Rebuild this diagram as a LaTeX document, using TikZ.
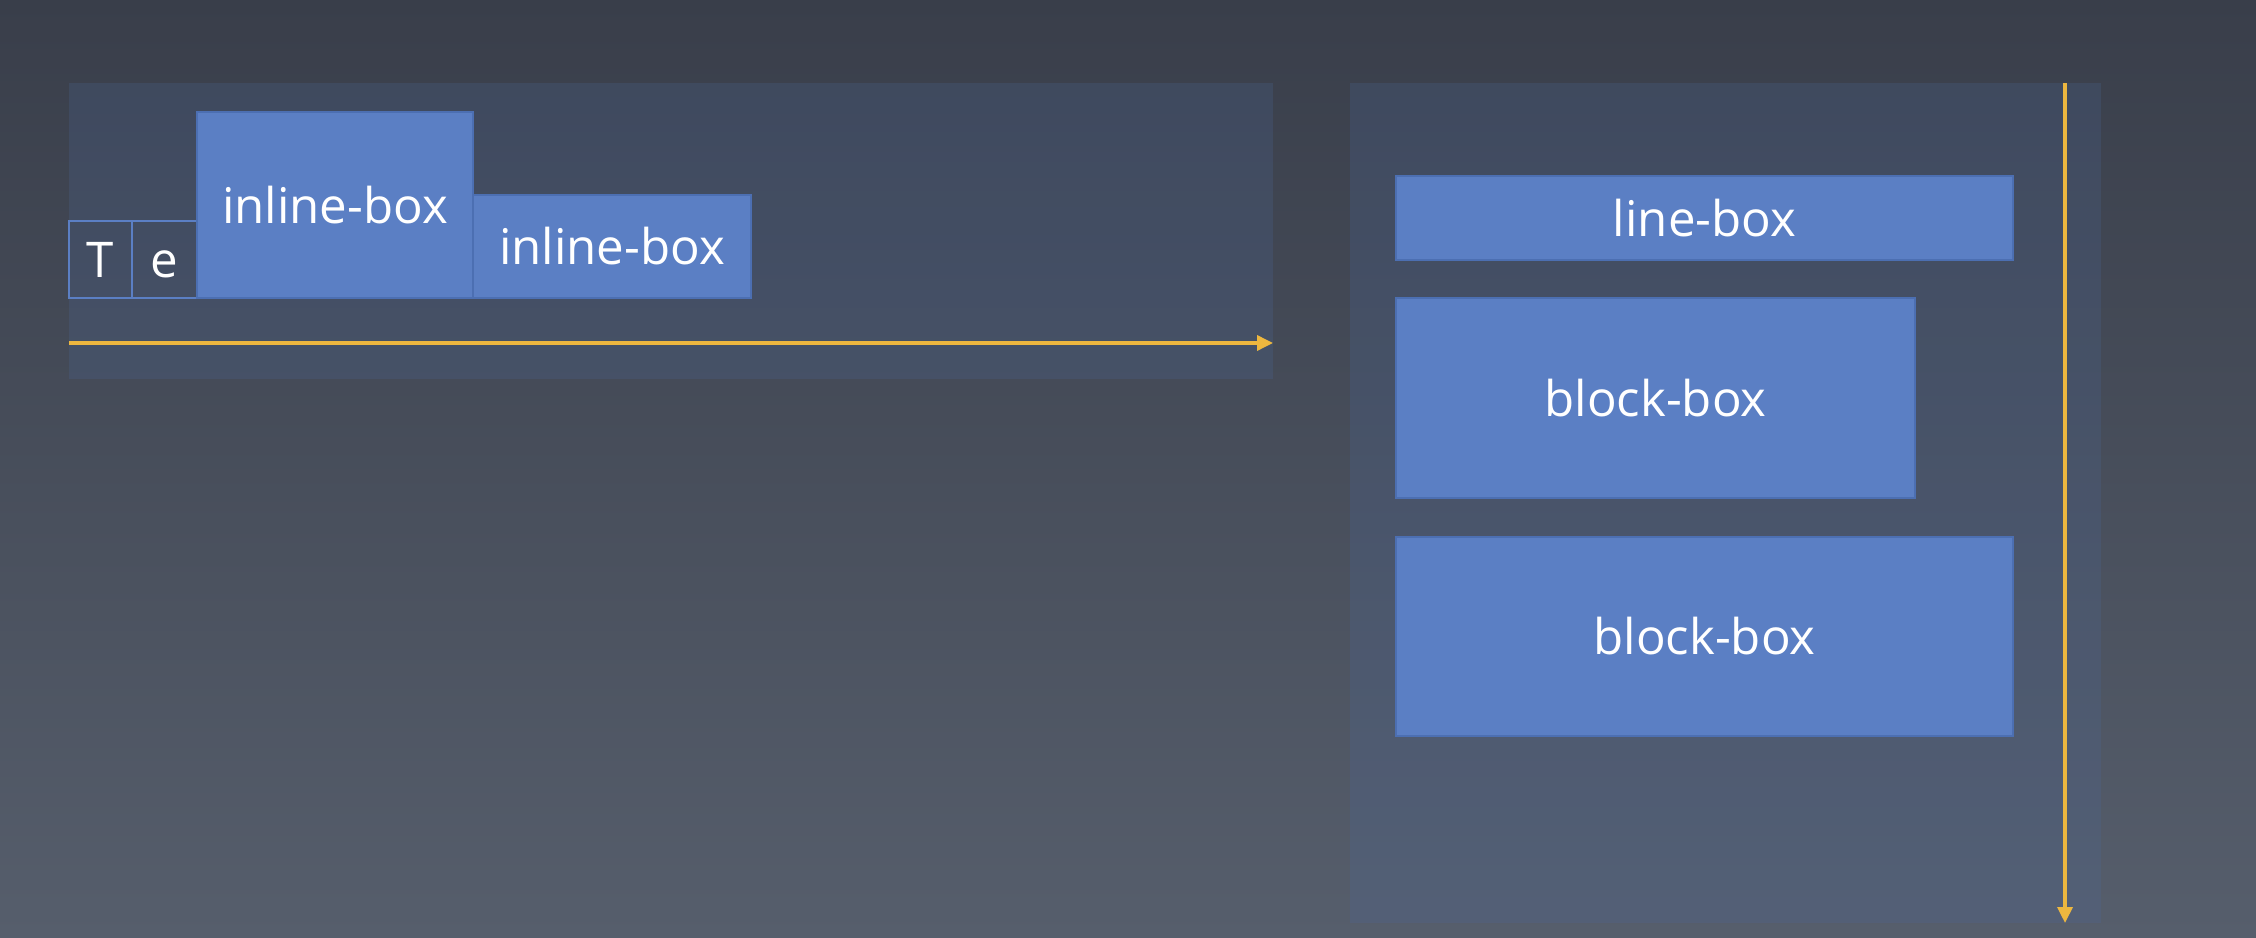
\documentclass[tikz,border=0pt]{standalone}
\usepackage{fontspec}
\setmainfont{Open Sans}
\usetikzlibrary{arrows.meta}
\definecolor{bgtop}{HTML}{393E4A}
\definecolor{bgbot}{HTML}{565E6C}
\definecolor{panel}{HTML}{4D6A9E}
\definecolor{boxblue}{HTML}{5B7FC4}
\definecolor{boxline}{HTML}{4C6FB2}
\definecolor{flow}{HTML}{EDB73F}

\begin{document}
\begin{tikzpicture}[x=0.1mm, y=-0.1mm,
    box/.style={draw=boxline, fill=boxblue, text=white, inner sep=0pt, outer sep=0pt, line width=0.15mm, font=\fontsize{14}{16}\selectfont},
    cell/.style={draw=boxblue, text=white, inner sep=0pt, outer sep=0pt, line width=0.15mm, font=\fontsize{14}{16}\selectfont, text height=10pt, text depth=0pt, minimum height=7.7mm},
    flowline/.style={draw=flow, line width=0.35mm, -{Triangle[length=1.6mm,width=1.5mm]}}]
    \useasboundingbox (0,0) rectangle (2256,938);
    \shade[top color=bgtop, bottom color=bgbot] (0,0) rectangle (2256,938);
    % inline formatting context
    \fill[panel, fill opacity=0.22] (69,83) rectangle (1273,379);
    \node[cell, anchor=south west, minimum width=6.3mm] (T) at (69,298) {T};
    \node[cell, anchor=south west, minimum width=6.5mm] (e) at (T.south east) {e};
    \node[box, anchor=south west, minimum width=27.6mm, minimum height=18.6mm] (inl1) at (e.south east) {inline-box};
    \node[box, anchor=south west, minimum width=27.8mm, minimum height=10.3mm] (inl2) at (inl1.south east) {inline-box};
    \coordinate (hstart) at (69,343);
    \coordinate (hend) at (1273,343);
    \draw[flowline] (hstart) -- (hend);
    % block formatting context
    \fill[panel, fill opacity=0.22] (1350,83) rectangle (2101,923);
    \node[box, anchor=north west, minimum width=61.7mm, minimum height=8.4mm] (line) at (1396,176) {line-box};
    \node[box, anchor=north west, minimum width=51.9mm, minimum height=20mm] (blk1) at (1396,298) {block-box};
    \node[box, anchor=north west, minimum width=61.7mm, minimum height=19.9mm] (blk2) at (1396,537) {block-box};
    \coordinate (vstart) at (2065,83);
    \coordinate (vend) at (2065,923);
    \draw[flowline] (vstart) -- (vend);
\end{tikzpicture}
\end{document}
